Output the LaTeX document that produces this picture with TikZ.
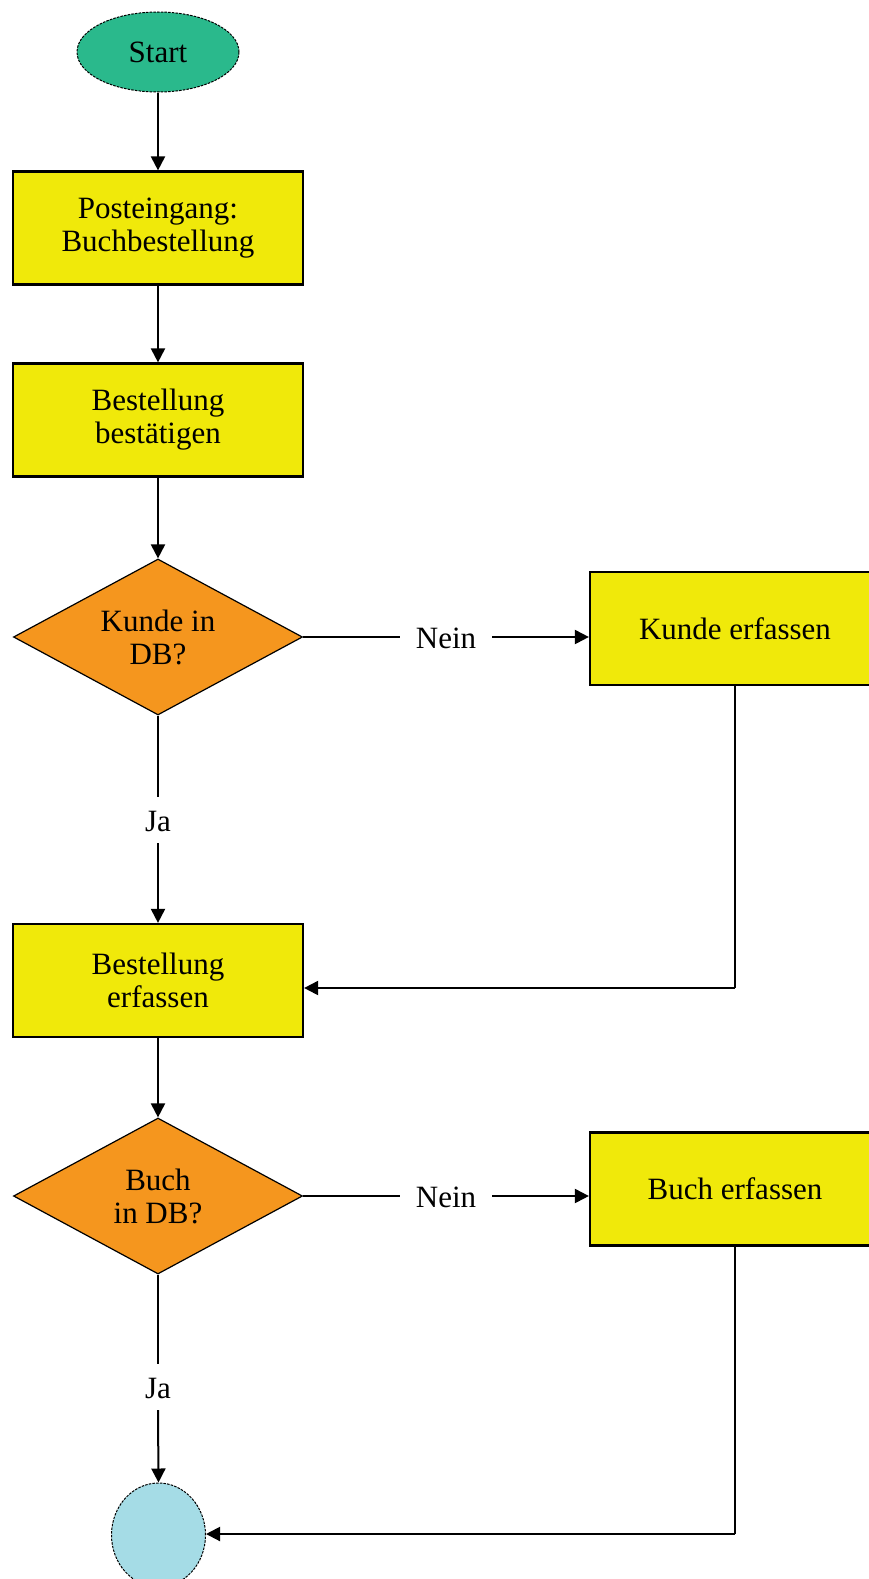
\documentclass[tikz,border=0pt]{standalone}
\usepackage{fontspec}
\setmainfont{Liberation Serif}
\usetikzlibrary{shapes.geometric,arrows.meta,calc}
\definecolor{startgreen}{RGB}{42,185,140}
\definecolor{boxyellow}{RGB}{240,233,10}
\definecolor{decorange}{RGB}{245,150,30}
\definecolor{endcyan}{RGB}{165,220,230}
\begin{document}
\begin{tikzpicture}[x=1pt,y=-1pt,
  every node/.style={font=\fontsize{31}{33}\selectfont, align=center},
  term/.style={ellipse, draw, line width=1pt, dash pattern=on 2.5pt off 1.2pt, inner sep=0pt},
  procbox/.style={rectangle, draw, line width=2.2pt, fill=boxyellow, minimum width=290pt, minimum height=113pt, inner sep=0pt},
  decision/.style={diamond, draw, line width=1.2pt, fill=decorange, aspect=1.85, minimum width=289pt, minimum height=156pt, inner sep=0pt},
  lbl/.style={inner xsep=16pt, inner ysep=12pt, text height=22pt, text depth=0pt},
  conn/.style={line width=2pt},
  arr/.style={conn, -{Triangle[length=14pt,width=14pt]}}
]
\useasboundingbox (0,0) rectangle (869,1579);
\clip (0,0) rectangle (869,1579);

\node[term, fill=startgreen, minimum width=162pt, minimum height=80pt] (start) at (158,52) {Start};
\node[procbox] (b1) at (158,228) {Posteingang:\\Buchbestellung};
\node[procbox] (b2) at (158,420) {Bestellung\\bestätigen};
\node[decision] (d1) at (158,637) {Kunde in\\DB?};
\node[procbox] (k) at (735,628.5) {Kunde erfassen};
\node[lbl] (nein1) at (446,637) {Nein};
\node[lbl] (ja1) at (158,820) {Ja};
\node[procbox] (b3) at (158,980.5) {Bestellung\\erfassen};
\node[decision] (d2) at (158,1196) {Buch\\in DB?};
\node[procbox] (bx) at (735,1189) {Buch erfassen};
\node[lbl] (nein2) at (446,1196) {Nein};
\node[lbl] (ja2) at (158,1387) {Ja};
\node[term, fill=endcyan, minimum width=94pt, minimum height=104pt] (end) at (158.5,1535) {};

\coordinate (c1) at (735,988);
\coordinate (c2) at (735,1534);

\draw[arr] (start) -- (b1);
\draw[arr] (b1) -- (b2);
\draw[arr] (b2) -- (d1);
\draw[conn] (d1.east) -- (nein1.west);
\draw[arr] (nein1.east) -- (nein1.east -| k.west);
\draw[conn] (d1.south) -- (ja1.north);
\draw[arr] (ja1.south) -- (b3.north);
\draw[conn] (k.south) -- (c1);
\draw[arr] (c1) -- (c1 -| b3.east);
\draw[arr] (b3) -- (d2);
\draw[conn] (d2.east) -- (nein2.west);
\draw[arr] (nein2.east) -- (nein2.east -| bx.west);
\draw[conn] (d2.south) -- (ja2.north);
\draw[arr] (ja2.south) -- (end.north);
\draw[conn] (bx.south) -- (c2);
\draw[arr] (c2) -- (c2 -| end.east);
\end{tikzpicture}
\end{document}
